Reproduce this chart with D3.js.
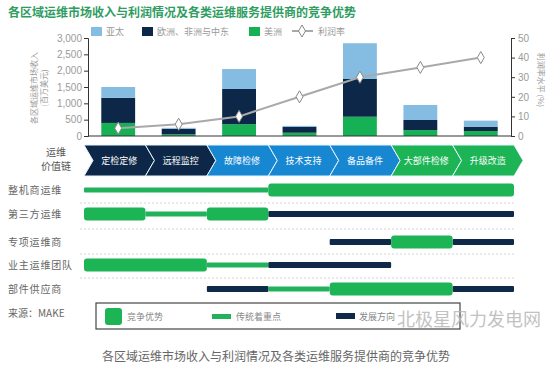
<!DOCTYPE html>
<html>
<head>
<meta charset="utf-8">
<script src="https://cdn.jsdelivr.net/npm/d3@7"></script>
<style>
    body { margin: 0; background: #fff; }
    svg { display: block; font-family: "Noto Sans CJK SC", "Noto Sans", sans-serif; }
</style>
</head>
<body>
<div id="chart"></div>
<script>
// value chain steps (also the bar categories)
const steps = ['定检定修', '远程监控', '故障检修', '技术支持', '备品备件', '大部件检修', '升级改造'];
const stepGroups = ['navy', 'navy', 'blue', 'blue', 'blue', 'green', 'green'];

// market revenue by region (million USD)
const regions = ['美洲', '欧洲、非洲与中东', '亚太'];
const americas = [400, 50, 360, 100, 590, 180, 150];
const emea = [770, 170, 1080, 180, 1155, 310, 135];
const apac = [330, 30, 610, 30, 1095, 460, 185];
const profit = [4, 6, 10, 20, 30, 35, 40];

const leftTicks = [0, 500, 1000, 1500, 2000, 2500, 3000];
const rightTicks = [0, 10, 20, 30, 40, 50];

// providers and their segments over the value chain [from, to, kind]
const providers = ['整机商运维', '第三方运维', '专项运维商', '业主运维团队', '部件供应商'];
const segments = [
    [[0, 3, 'focus'], [3, 7, 'edge']],
    [[0, 1, 'edge'], [1, 2, 'focus'], [2, 3, 'edge'], [3, 7, 'dev']],
    [[4, 5, 'dev'], [5, 6, 'edge'], [6, 7, 'dev']],
    [[0, 2, 'edge'], [2, 3, 'focus'], [3, 5, 'dev']],
    [[2, 3, 'dev'], [3, 4, 'focus'], [4, 6, 'edge'], [6, 7, 'dev']]
];
const kinds = ['edge', 'focus', 'dev'];
const kindLabels = ['竞争优势', '传统着重点', '发展方向'];

const colors = {
    apac: '#84bce2', emea: '#0c2747', americas: '#17b155',
    navy: '#0c2747', blue: '#1787d2', green: '#1cb454',
    edge: '#1cb454', focus: '#23b25c', dev: '#0f2a49',
    line: '#a9a9a9', text: '#6a6a6a', title: '#2f9d62'
};

const svg = d3.select('#chart').append('svg')
    .attr('width', 552)
    .attr('height', 370);

// title
svg.append('text')
    .attr('x', 8).attr('y', 17)
    .attr('fill', colors.title)
    .attr('font-size', 12)
    .attr('font-weight', 'bold')
    .text('各区域运维市场收入与利润情况及各类运维服务提供商的竞争优势');

// ---- bar chart ----
const x = d3.scaleBand().domain(steps).range([88, 511]).paddingInner(0.44).paddingOuter(0.22);
const y = d3.scaleLinear().domain([0, 3000]).range([136, 38]);
const yR = d3.scaleLinear().domain([0, 50]).range([136, 38]);

const table = steps.map((s, i) => ({ step: s, americas: americas[i], emea: emea[i], apac: apac[i] }));
const stacked = d3.stack().keys(['americas', 'emea', 'apac'])(table);

svg.append('g').selectAll('g')
    .data(stacked)
    .join('g')
        .attr('fill', d => colors[d.key])
    .selectAll('rect')
    .data(d => d)
    .join('rect')
        .attr('x', d => x(d.data.step))
        .attr('y', d => y(d[1]))
        .attr('width', x.bandwidth())
        .attr('height', d => y(d[0]) - y(d[1]));

const styleAxis = g => {
    g.select('.domain').attr('stroke', '#333');
    g.selectAll('.tick line').attr('stroke', '#333');
    g.selectAll('.tick text').attr('fill', '#9a9a9a').attr('font-size', 10)
        .attr('font-family', '"Liberation Sans", sans-serif');
};

svg.append('g')
    .attr('transform', 'translate(88,0)')
    .call(d3.axisLeft(y).tickValues(leftTicks).tickFormat(d3.format(',')).tickSize(4).tickPadding(2))
    .call(styleAxis);

svg.append('g')
    .attr('transform', 'translate(511,0)')
    .call(d3.axisRight(yR).tickValues(rightTicks).tickSize(4).tickPadding(3))
    .call(styleAxis);

svg.append('line')
    .attr('x1', 88).attr('x2', 511).attr('y1', 136).attr('y2', 136)
    .attr('stroke', '#333');

// profit line
const line = d3.line()
    .x((d, i) => x(steps[i]) + x.bandwidth() / 2)
    .y(d => yR(d));
svg.append('path')
    .datum(profit)
    .attr('d', line)
    .attr('fill', 'none')
    .attr('stroke', colors.line)
    .attr('stroke-width', 2);

const diamond = d3.symbol().type(d3.symbolDiamond).size(42);
svg.append('g').selectAll('path')
    .data(profit)
    .join('path')
        .attr('d', diamond)
        .attr('transform', (d, i) => `translate(${x(steps[i]) + x.bandwidth() / 2},${yR(d)})`)
        .attr('fill', '#fff')
        .attr('stroke', '#888')
        .attr('stroke-width', 1);

// axis titles
svg.append('text')
    .attr('transform', 'translate(37,88) rotate(-90)')
    .attr('text-anchor', 'middle')
    .attr('font-size', 8).attr('fill', '#999')
    .text('各区域运维市场收入');
svg.append('text')
    .attr('transform', 'translate(47,88) rotate(-90)')
    .attr('text-anchor', 'middle')
    .attr('font-size', 8).attr('fill', '#999')
    .text('(百万美元)');
svg.append('text')
    .attr('transform', 'translate(538,80) rotate(90)')
    .attr('text-anchor', 'middle')
    .attr('font-size', 8).attr('fill', '#999')
    .text('利润率水平 (%)');

// top legend
const legendItems = [
    { key: 'apac', label: '亚太', x: 91 },
    { key: 'emea', label: '欧洲、非洲与中东', x: 142 },
    { key: 'americas', label: '美洲', x: 249 }
];
const legend = svg.append('g');
legendItems.forEach(item => {
    legend.append('rect')
        .attr('x', item.x).attr('y', 27).attr('width', 11).attr('height', 9)
        .attr('fill', colors[item.key]);
    legend.append('text')
        .attr('x', item.x + 15).attr('y', 35)
        .attr('font-size', 9).attr('fill', '#999')
        .text(item.label);
});
legend.append('line')
    .attr('x1', 292).attr('x2', 313).attr('y1', 31).attr('y2', 31)
    .attr('stroke', colors.line).attr('stroke-width', 2);
legend.append('path')
    .attr('d', diamond)
    .attr('transform', 'translate(302,31)')
    .attr('fill', '#fff').attr('stroke', '#888');
legend.append('text')
    .attr('x', 318).attr('y', 35)
    .attr('font-size', 9).attr('fill', '#999')
    .text('利润率');

// ---- value chain ----
const sx = d3.scaleLinear().domain([0, steps.length]).range([84, 514]);
const chevTop = 145, chevBot = 176, tip = 9;
const chevMid = (chevTop + chevBot) / 2;

svg.append('text')
    .attr('x', 56).attr('y', 156)
    .attr('text-anchor', 'middle')
    .attr('font-size', 10).attr('fill', '#555')
    .text('运维');
svg.append('text')
    .attr('x', 56).attr('y', 170)
    .attr('text-anchor', 'middle')
    .attr('font-size', 10).attr('fill', '#555')
    .text('价值链');

const chev = svg.append('g').selectAll('g')
    .data(steps)
    .join('g');
chev.append('path')
    .attr('d', (d, i) => {
        const x0 = sx(i), x1 = sx(i + 1);
        return `M${x0},${chevTop}L${x1},${chevTop}L${x1 + tip},${chevMid}L${x1},${chevBot}L${x0},${chevBot}L${x0 + tip},${chevMid}Z`;
    })
    .attr('fill', (d, i) => colors[stepGroups[i]])
    .attr('stroke', '#e8f4ff')
    .attr('stroke-width', 1);
chev.append('text')
    .attr('x', (d, i) => (sx(i) + sx(i + 1)) / 2 + tip / 2)
    .attr('y', chevMid + 3.5)
    .attr('text-anchor', 'middle')
    .attr('font-size', 9)
    .attr('fill', '#fff')
    .text(d => d);

// ---- provider rows ----
const rowY = [190, 214, 242, 265, 289];
const sepY = [203, 229, 254, 278];
const heights = { edge: 13, focus: 5, dev: 6 };

svg.append('g').selectAll('line')
    .data(sepY)
    .join('line')
        .attr('x1', 80).attr('x2', 515)
        .attr('y1', d => d).attr('y2', d => d)
        .attr('stroke', '#d4d4d4')
        .attr('stroke-dasharray', '2,2');

svg.append('g').selectAll('text')
    .data(providers)
    .join('text')
        .attr('x', 8)
        .attr('y', (d, i) => rowY[i] + 4)
        .attr('font-size', 10)
        .attr('letter-spacing', 0.8)
        .attr('fill', '#666')
        .text(d => d);

// draw thin segments first, thick ones on top
const rows = svg.append('g');
providers.forEach((p, r) => {
    const segs = segments[r].slice().sort((a, b) => heights[a[2]] - heights[b[2]]);
    rows.append('g').selectAll('rect')
        .data(segs)
        .join('rect')
            .attr('x', d => sx(d[0]))
            .attr('width', d => sx(d[1]) - sx(d[0]))
            .attr('y', d => rowY[r] - heights[d[2]] / 2)
            .attr('height', d => heights[d[2]])
            .attr('rx', d => d[2] === 'edge' ? 3 : 1)
            .attr('fill', d => colors[d[2]]);
});

svg.append('text')
    .attr('x', 8).attr('y', 317)
    .attr('font-size', 10).attr('fill', '#666')
    .text('来源：MAKE');

// bottom legend
const lg = svg.append('g');
lg.append('rect')
    .attr('x', 96).attr('y', 303).attr('width', 364).attr('height', 26)
    .attr('fill', '#fff').attr('stroke', '#444').attr('stroke-width', 1.2);
lg.append('rect')
    .attr('x', 105).attr('y', 308).attr('width', 17).attr('height', 17).attr('rx', 3)
    .attr('fill', colors.edge);
lg.append('rect')
    .attr('x', 212).attr('y', 314).attr('width', 19).attr('height', 5)
    .attr('fill', colors.focus);
lg.append('rect')
    .attr('x', 336).attr('y', 313).attr('width', 19).attr('height', 6)
    .attr('fill', colors.dev);
[127, 236, 359].forEach((lx, i) => {
    lg.append('text')
        .attr('x', lx).attr('y', 320)
        .attr('font-size', 9).attr('fill', '#888')
        .text(kindLabels[i]);
});

// watermark
svg.append('text')
    .attr('x', 397).attr('y', 326)
    .attr('font-size', 18).attr('fill', '#b8b8b8')
    .attr('opacity', 0.85)
    .text('北极星风力发电网');

// caption
svg.append('text')
    .attr('x', 276).attr('y', 361)
    .attr('text-anchor', 'middle')
    .attr('font-size', 12).attr('fill', '#666')
    .text('各区域运维市场收入与利润情况及各类运维服务提供商的竞争优势');
</script>
</body>
</html>
